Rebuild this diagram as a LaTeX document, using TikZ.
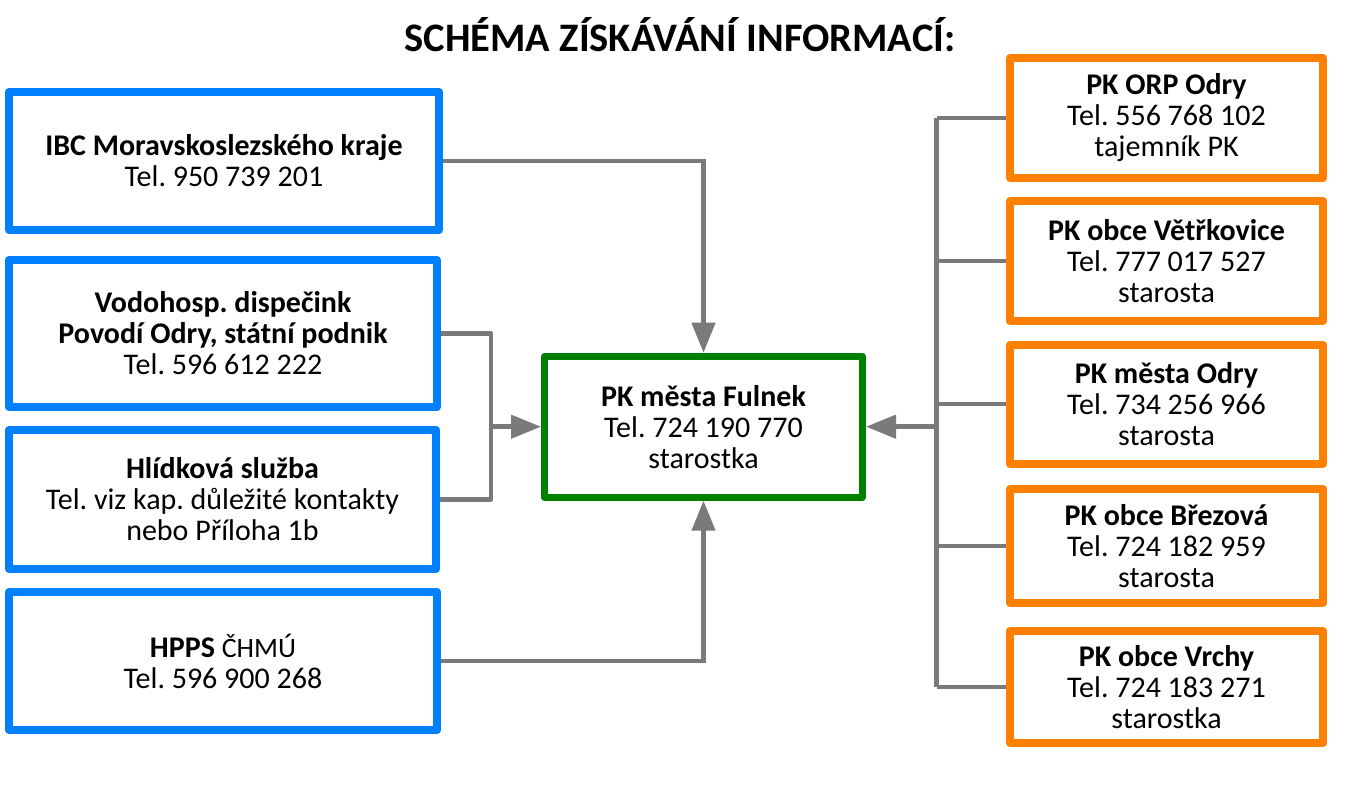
\documentclass[tikz,border=0pt]{standalone}
\usepackage{fontspec}
\setmainfont{Carlito}
\frenchspacing
\usetikzlibrary{arrows.meta,calc}
\definecolor{cblue}{HTML}{0080FF}
\definecolor{cgreen}{HTML}{008000}
\definecolor{corange}{HTML}{FF8000}
\definecolor{cline}{HTML}{7A7A7A}
\tikzset{
  box/.style={draw, fill=white, line width=8pt, line join=round, inner sep=0pt,
    align=center, font=\fontsize{30}{31}\selectfont, text=black},
  bluebox/.style={box, draw=cblue, minimum width=#1},
  orbox/.style={box, draw=corange, minimum width=313pt},
  greenbox/.style={box, draw=cgreen, line width=7pt, minimum width=318pt, minimum height=141pt},
  conn/.style={draw=cline, line width=4.5pt},
  arr/.style={conn, -{Triangle[length=30pt,width=23pt]}},
}
\begin{document}
\begin{tikzpicture}[x=1pt,y=-1pt]
\useasboundingbox (0,0) rectangle (1360,787);
\node[font=\fontsize{40.5}{44}\selectfont\bfseries] (title) at (680,35) {SCHÉMA ZÍSKÁVÁNÍ INFORMACÍ:};

\node[bluebox=430pt, minimum height=138pt] (b1) at (224,161) {\textbf{IBC Moravskoslezského kraje}\\Tel. 950 739 201};
\node[bluebox=428pt, minimum height=147pt] (b2) at (223,333.5) {\textbf{Vodohosp. dispečink}\\\textbf{Povodí Odry, státní podnik}\\Tel. 596 612 222};
\node[bluebox=427pt, minimum height=139pt] (b3) at (222.5,499.5) {\textbf{Hlídková služba}\\Tel. viz kap. důležité kontakty\\nebo Příloha 1b};
\node[bluebox=428pt, minimum height=138pt] (b4) at (223,661) {\textbf{HPPS} {\fontsize{28}{31}\selectfont ČHMÚ}\\Tel. 596 900 268};

\node[greenbox] (g) at (703.5,426.7) {\textbf{PK města Fulnek}\\Tel. 724 190 770\\starostka};

\node[orbox, minimum height=120pt] (o1) at (1166.5,118) {\textbf{PK ORP Odry}\\Tel. 556 768 102\\tajemník PK};
\node[orbox, minimum height=120pt] (o2) at (1166.5,261) {\textbf{PK obce Větřkovice}\\Tel. 777 017 527\\starosta};
\node[orbox, minimum height=119pt] (o3) at (1166.5,404) {\textbf{PK města Odry}\\Tel. 734 256 966\\starosta};
\node[orbox, minimum height=114pt] (o4) at (1166.5,546) {\textbf{PK obce Březová}\\Tel. 724 182 959\\starosta};
\node[orbox, minimum height=112pt] (o5) at (1166.5,687) {\textbf{PK obce Vrchy}\\Tel. 724 183 271\\starostka};

% left connectors
\draw[arr] (b1.east) -| (g.north);
\draw[arr] (b4.east) -| (g.south);
\coordinate (jl) at ($(b2.east)+(50,0)$);
\draw[conn, line join=round] (b2.east) -- (jl) |- (b3.east);
\draw[arr] (jl |- g.west) -- (g.west);

% right connectors
\coordinate (tt) at (936.5,0);
\draw[conn] (tt |- o1.west) -- (tt |- o5.west);
\foreach \o in {o1,o2,o3,o4,o5}{
  \draw[conn] (\o.west) -- (tt |- \o.west);
}
\draw[arr] (tt |- g.east) -- (g.east);
\end{tikzpicture}
\end{document}
